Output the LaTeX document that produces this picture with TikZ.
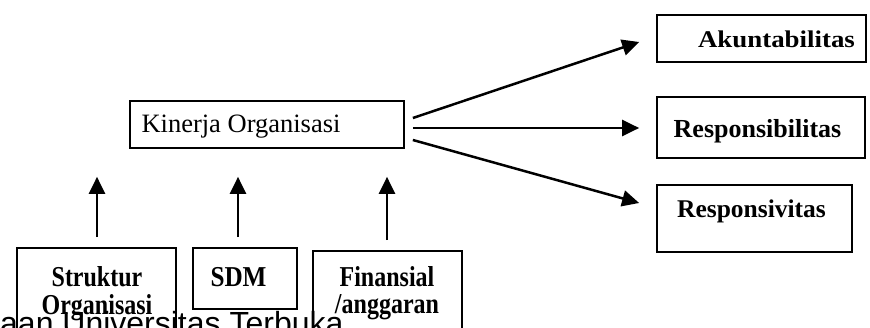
\documentclass[tikz,border=0pt]{standalone}
\usepackage{fontspec}
\setmainfont{Liberation Serif}
\newfontfamily\wmfont{Liberation Sans}
\usetikzlibrary{arrows.meta}
\begin{document}
\begin{tikzpicture}[x=1pt,y=-1pt,
  box/.style={draw, line width=1.7pt, inner sep=0pt},
  lbl/.style={inner sep=0pt, anchor=base},
  arr/.style={line width=2.5pt, -{Triangle[length=17pt,width=16pt]}},
  big/.style={font=\fontsize{26.5}{30}\selectfont},
  bbig/.style={font=\fontsize{26}{30}\selectfont\bfseries},
  bsmall/.style={font=\fontsize{24}{22}\selectfont\bfseries}]
\clip (0,0) rectangle (870,328);
\fill[white] (0,0) rectangle (870,328);
% main box
\node[box, minimum width=274pt, minimum height=47pt] (kin) at (267,124.5) {};
\node[lbl, big] (kint) at (241,133) {Kinerja Organisasi};
% right boxes
\node[box, minimum width=209pt, minimum height=47pt] (akun) at (761.5,38.5) {};
\node[lbl, bsmall] (akunt) at (776.5,48) {\scalebox{1.12}[1]{Akuntabilitas}};
\node[box, minimum width=208pt, minimum height=61pt] (resp) at (761,127.5) {};
\node[lbl, bbig] (respt) at (757.5,138) {Responsibilitas};
\node[box, minimum width=195pt, minimum height=67pt] (respv) at (754.5,218.5) {};
\node[lbl, font=\fontsize{25.5}{30}\selectfont\bfseries] (respvt) at (751.5,218) {Responsivitas};
% bottom boxes
\node[box, minimum width=159pt, minimum height=97pt] (struk) at (96.5,296.5) {};
\node[lbl, bsmall] (strukt) at (97,287) {\scalebox{1}[1.2]{\begin{tabular}[t]{@{}c@{}}Struktur\\Organisasi\end{tabular}}};
\node[box, minimum width=104pt, minimum height=61pt] (sdm) at (245,278.5) {};
\node[lbl, bsmall] (sdmt) at (238.5,287) {\scalebox{1.05}[1.2]{SDM}};
\node[box, minimum width=149pt, minimum height=94pt] (fin) at (387.5,298) {};
\node[lbl, bsmall] (fint) at (387,287) {\scalebox{1}[1.2]{\begin{tabular}[t]{@{}c@{}}Finansial\\/anggaran\end{tabular}}};
% arrows to the right
\draw[arr] ([xshift=8pt,yshift=6.5pt]kin.east) -- ([xshift=-17pt,yshift=-3.5pt]akun.west);
\draw[arr] ([xshift=8pt,yshift=-3.5pt]kin.east) -- ([xshift=-17pt,yshift=-3.5pt]kin.east -| resp.west);
\draw[arr] ([xshift=8pt,yshift=-15.5pt]kin.east) -- ([xshift=-17pt,yshift=15.5pt]respv.west);
% arrows upward
\draw[arr] ([xshift=0.5pt,yshift=10pt]struk.north) -- ([xshift=0.5pt,yshift=-28pt]struk.north |- kin.south);
\draw[arr] ([xshift=-7pt,yshift=10pt]sdm.north) -- ([xshift=-7pt,yshift=-28pt]sdm.north |- kin.south);
\draw[arr] ([xshift=-0.5pt,yshift=10pt]fin.north) -- ([xshift=-0.5pt,yshift=-28pt]fin.north |- kin.south);
% watermark
\node[inner sep=0pt, anchor=base west, font=\wmfont\fontsize{32}{36}\selectfont] (wm) at (0,334.6) {aan Universitas Terbuka};
\end{tikzpicture}
\end{document}
